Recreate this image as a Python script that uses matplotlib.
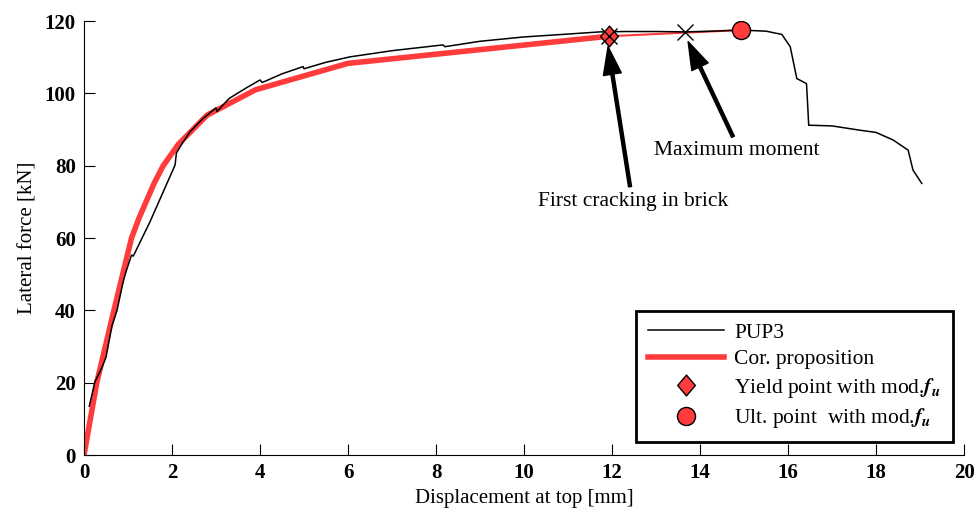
import numpy as np
import matplotlib
matplotlib.use('Agg')
import matplotlib.pyplot as plt

plt.rcParams['font.family'] = 'Liberation Serif'
plt.rcParams['mathtext.fontset'] = 'stix'

# test curve PUP3
pup3_x = [0.12, 0.25, 0.4, 0.5, 0.63, 0.75, 0.89, 0.95, 1.08, 1.12, 1.5, 2.07, 2.1, 2.25, 2.41,
          2.7, 3.0, 3.02, 3.3, 3.7, 4.0, 4.05, 4.5, 4.98, 5.0, 5.5, 6.05, 7.0, 8.16, 8.2,
          9.0, 10.0, 11.0, 11.73, 12.3, 13.0, 13.66, 14.3, 14.93, 15.5, 15.86, 16.05,
          16.2, 16.42, 16.45, 16.47, 17.0, 17.64, 18.0, 18.39, 18.73, 18.84, 19.04]
pup3_y = [13.5, 20.3, 24.0, 27.0, 35.5, 40.0, 47.9, 50.5, 55.3, 55.0, 64.5, 80.2, 83.5, 86.5, 89.4,
          93.0, 96.0, 95.0, 98.6, 101.6, 103.7, 103.0, 105.4, 107.4, 106.8, 108.6, 110.1, 111.8, 113.4, 112.9,
          114.4, 115.6, 116.4, 117.0, 117.1, 117.1, 117.0, 117.2, 117.5, 117.2, 116.3, 112.9,
          104.1, 102.7, 96.0, 91.2, 91.0, 89.8, 89.2, 87.1, 84.3, 78.8, 75.1]

# corrected proposition
prop_x = [0.0, 0.29, 0.68, 1.08, 1.25, 1.41, 1.6, 1.8, 2.15, 2.8, 3.9, 6.0, 11.93]
prop_y = [0.0, 20.0, 40.0, 60.0, 65.5, 70.0, 75.3, 80.0, 86.0, 94.0, 101.0, 108.3, 115.8]

yield_pt = (11.93, 115.8)
ult_pt = (14.93, 117.5)
max_moment = (13.66, 117.0)

fig = plt.figure(figsize=(9.79, 5.13), dpi=100)
ax = fig.add_axes([0.0858, 0.113, 0.8989, 0.846])

red = '#ff3b3b'
diamond = [(-0.85, 0), (0, 1), (0.85, 0), (0, -1), (-0.85, 0)]
fu = '$\\mathbfit{f}_{\\mathbfit{u}}$'
ax.plot(pup3_x, pup3_y, color='black', lw=1.1, label='PUP3', zorder=3)
ax.plot(prop_x, prop_y, color=red, lw=4, label='Cor. proposition', zorder=2)
ax.plot([yield_pt[0], ult_pt[0]], [yield_pt[1], ult_pt[1]], color=red, lw=1.5, zorder=2)
ax.plot(*yield_pt, marker=diamond, ms=15, mfc=red, mec='black', mew=1, ls='none',
        label='Yield point with mod.' + fu, zorder=4)
ax.plot(*yield_pt, 'x', ms=11, color='black', mew=1, zorder=5)
ax.plot(*ult_pt, 'o', ms=13, mfc=red, mec='black', mew=1, ls='none',
        label='Ult. point  with mod.' + fu, zorder=4)
ax.plot(*max_moment, 'x', ms=12, color='black', mew=1, zorder=5)

arrow = dict(facecolor='black', edgecolor='black', width=2.2, headwidth=13, headlength=20, shrink=0)
ax.annotate('', xy=(11.91, 112.9), xytext=(12.41, 74.2), arrowprops=arrow)
ax.text(12.48, 70.2, 'First cracking in brick', ha='center', va='center', fontsize=15.5)
ax.annotate('', xy=(13.73, 114.3), xytext=(14.75, 88.0), arrowprops=arrow)
ax.text(14.84, 84.3, 'Maximum moment', ha='center', va='center', fontsize=15.5)

ax.set_xlim(0, 20)
ax.set_ylim(0, 120)
ax.set_xticks(np.arange(0, 21, 2))
ax.set_yticks(np.arange(0, 121, 20))
ax.spines['top'].set_visible(False)
ax.spines['right'].set_visible(False)
ax.tick_params(direction='in', length=8, labelsize=15, pad=6)
for lbl in ax.get_xticklabels() + ax.get_yticklabels():
    lbl.set_fontweight('bold')
ax.set_xlabel('Displacement at top [mm]', fontsize=15, labelpad=4)
ax.set_ylabel('Lateral force [kN]', fontsize=15, labelpad=5)

leg = ax.legend(loc='lower right', bbox_to_anchor=(0.9875, 0.03), fontsize=15.5,
                fancybox=False, framealpha=1, edgecolor='black', handlelength=3.5,
                handletextpad=0.5, borderaxespad=0, labelspacing=0.3, borderpad=0.55)
leg.get_frame().set_linewidth(2)

fig.savefig('out.png', dpi=100)
